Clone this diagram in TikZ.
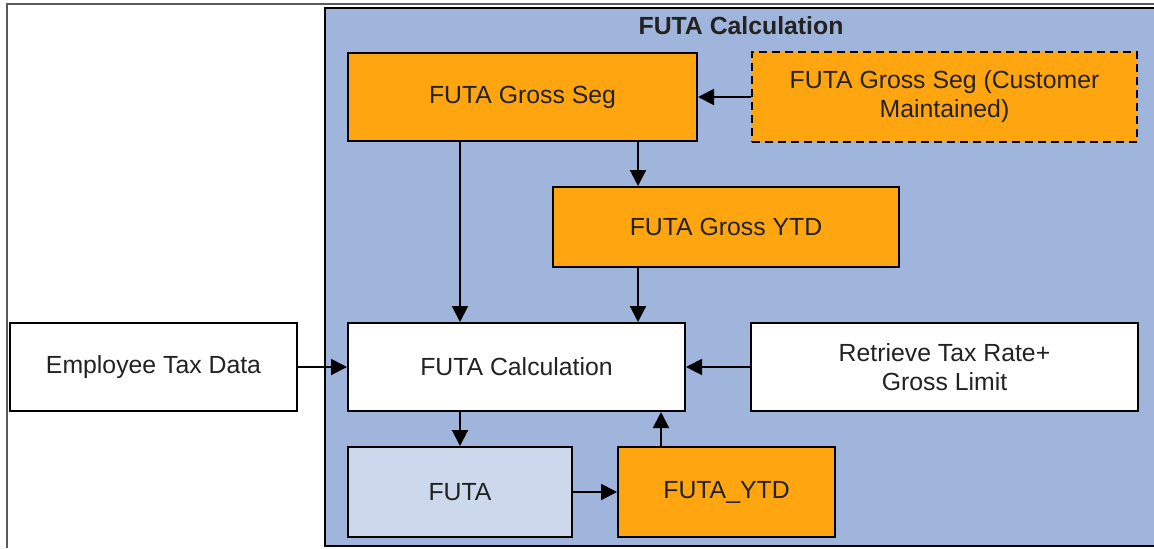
\documentclass[tikz,border=0pt]{standalone}
\usepackage{fontspec}
\setmainfont{Liberation Sans}
\usetikzlibrary{arrows.meta}
\definecolor{panelblue}{RGB}{160,181,219}
\definecolor{futaorange}{RGB}{255,165,16}
\definecolor{paleblue}{RGB}{204,217,236}
\definecolor{framegray}{RGB}{90,90,90}
\definecolor{textgray}{RGB}{34,34,34}

\begin{document}
\begin{tikzpicture}[x=0.5pt, y=-0.5pt,
    box/.style={draw, line width=1pt, fill=white, text=textgray, align=center,
      inner sep=0pt, font=\fontsize{12.4}{14.5}\selectfont},
    orangebox/.style={box, fill=futaorange},
    arr/.style={line width=1pt, -{Triangle[length=8pt,width=8pt]}}]
  \useasboundingbox (0,0) rectangle (1154,548);
  \draw[framegray, line width=1pt] (7,548) -- (7,4) -- (1154,4);
  \draw[line width=1pt, fill=panelblue] (325,8) rectangle (1162,546);
  \node[text=textgray, font=\bfseries\fontsize{12.4}{14.5}\selectfont] (title) at (741,26) {FUTA Calculation};

  \node[orangebox, minimum width=174.5pt, minimum height=44pt] (grossseg) at (522.5,97) {FUTA Gross Seg};
  \node[orangebox, dashed, dash pattern=on 4pt off 2.5pt, minimum width=192.5pt, minimum height=45pt] (custseg) at (944.5,97) {FUTA Gross Seg (Customer\\Maintained)};
  \node[orangebox, minimum width=173pt, minimum height=40pt] (grossytd) at (726,227) {FUTA Gross YTD};
  \node[box, minimum width=168.5pt, minimum height=44pt] (calc) at (516.5,367) {FUTA Calculation};
  \node[box, minimum width=193.5pt, minimum height=44pt] (retrieve) at (944.5,367) {Retrieve Tax Rate+\\Gross Limit};
  \node[box, minimum width=143.5pt, minimum height=44pt] (emp) at (153.5,367) {Employee Tax Data};
  \node[box, fill=paleblue, minimum width=112pt, minimum height=45pt] (futa) at (460,492) {FUTA};
  \node[orangebox, minimum width=108.5pt, minimum height=45pt] (futaytd) at (726.5,492) {FUTA\_YTD};

  \draw[arr] (custseg.west) -- (grossseg.east);
  \draw[arr] ([xshift=-44pt]grossytd.north |- grossseg.south) -- ([xshift=-44pt]grossytd.north);
  \draw[arr] (grossseg.south -| futa.north) -- (calc.north -| futa.north);
  \draw[arr] ([xshift=-44pt]grossytd.south) -- ([xshift=-44pt]grossytd.south |- calc.north);
  \draw[arr] (emp.east) -- (calc.west);
  \draw[arr] (retrieve.west) -- (calc.east);
  \draw[arr] (calc.south -| futa.north) -- (futa.north);
  \draw[arr] (futa.east) -- (futaytd.west);
  \draw[arr] ([xshift=-32.75pt]futaytd.north) -- ([xshift=-32.75pt]futaytd.north |- calc.south);
\end{tikzpicture}
\end{document}
